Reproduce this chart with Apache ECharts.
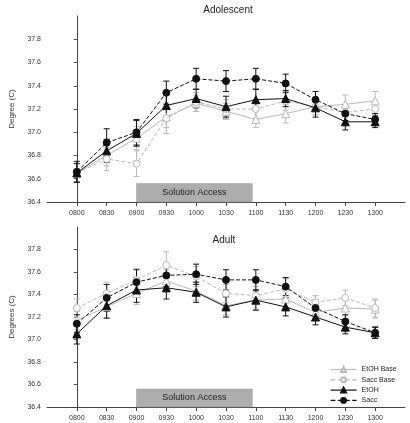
<!DOCTYPE html>
<html><head><meta charset="utf-8">
<script src="https://cdn.jsdelivr.net/npm/echarts@6/dist/echarts.min.js"></script>
<style>html,body{margin:0;padding:0;background:#fff}#c{width:410px;height:423px}</style>
</head><body><div id="c"></div>
<script>
const times = ['0800','0830','0900','0930','1000','1030','1100','1130','1200','1230','1300'];
const seriesNames = ['EtOH Base','Sacc Base','EtOH','Sacc'];
const yTicks = [36.4,36.6,36.8,37.0,37.2,37.4,37.6,37.8];
// Adolescent
const adoEtohBase = [36.65,36.80,36.95,37.13,37.25,37.18,37.11,37.16,37.22,37.24,37.27];
const adoEtohBaseErr = [0.08,0.09,0.10,0.09,0.07,0.07,0.07,0.08,0.07,0.08,0.08];
const adoSaccBase = [36.65,36.77,36.73,37.12,37.26,37.20,37.20,37.27,37.22,37.17,37.20];
const adoSaccBaseErr = [0.08,0.10,0.11,0.13,0.08,0.08,0.08,0.08,0.07,0.07,0.07];
const adoEtoh = [36.65,36.84,36.99,37.23,37.29,37.22,37.28,37.29,37.21,37.09,37.09];
const adoEtohErr = [0.08,0.10,0.11,0.11,0.08,0.09,0.09,0.07,0.08,0.07,0.05];
const adoSacc = [36.66,36.91,37.00,37.34,37.46,37.44,37.46,37.42,37.28,37.16,37.11];
const adoSaccErr = [0.09,0.12,0.11,0.10,0.09,0.09,0.09,0.08,0.07,0.06,0.05];
// Adult
const adEtohBase = [37.17,37.29,37.41,37.52,37.43,37.30,37.35,37.36,37.24,37.28,37.27];
const adEtohBaseErr = [0.08,0.10,0.10,0.10,0.08,0.08,0.08,0.08,0.07,0.07,0.08];
const adSaccBase = [37.28,37.41,37.53,37.66,37.56,37.41,37.39,37.45,37.33,37.37,37.28];
const adSaccBaseErr = [0.08,0.10,0.10,0.12,0.09,0.08,0.08,0.09,0.06,0.07,0.08];
const adEtoh = [37.05,37.30,37.44,37.46,37.42,37.29,37.35,37.29,37.20,37.11,37.06];
const adEtohErr = [0.09,0.11,0.11,0.10,0.09,0.09,0.09,0.08,0.07,0.06,0.05];
const adSacc = [37.14,37.37,37.51,37.57,37.58,37.53,37.53,37.47,37.28,37.16,37.06];
const adSaccErr = [0.08,0.12,0.11,0.10,0.09,0.09,0.09,0.08,0.07,0.06,0.05];
// Solution access period (x in time index units, y in degrees)
const accessStart = 2, accessEnd = 5.88, accessLow = 36.4, accessHigh = 36.56;

const GRAY = '#b9b9b9', BLACK = '#111';
const styles = {
  'EtOH Base': {color: GRAY, type: 'solid', symbol: 'triangle', size: 8, fill: '#fff'},
  'Sacc Base': {color: GRAY, type: 'dashed', symbol: 'circle', size: 7, fill: '#fff'},
  'EtOH': {color: BLACK, type: 'solid', symbol: 'triangle', size: 8, fill: BLACK},
  'Sacc': {color: BLACK, type: 'dashed', symbol: 'circle', size: 7, fill: BLACK}
};
const font = 'Liberation Sans, Arial, sans-serif';
const idx = times.map((t, i) => i);

function xAxis(gi) {
  return {
    type: 'value', gridIndex: gi, min: -1, max: 11, interval: 1,
    axisLine: {lineStyle: {color: '#444', width: 1}},
    axisTick: {length: 4, lineStyle: {color: '#444'}, customValues: idx},
    axisLabel: {fontSize: 7, color: '#333', fontFamily: font, margin: 8, customValues: idx,
      formatter: v => (v >= 0 && v <= 10 ? times[Math.round(v)] : '')},
    splitLine: {show: false}
  };
}
function yAxis(gi, name) {
  return {
    type: 'value', gridIndex: gi, min: 36.4, max: 38.0, interval: 0.2,
    name: name, nameLocation: 'middle', nameRotate: 90, nameGap: 31,
    nameTextStyle: {fontSize: 8, color: '#333', fontFamily: font},
    axisLine: {show: true, lineStyle: {color: '#444', width: 1}},
    axisTick: {show: true, length: 3, lineStyle: {color: '#444'}, customValues: yTicks},
    axisLabel: {fontSize: 7, color: '#333', fontFamily: font, margin: 6, customValues: yTicks,
      formatter: v => (v > 37.9 ? '' : v.toFixed(1))},
    splitLine: {show: false}
  };
}
function lineSeries(gi, name, vals, withArea) {
  const s = styles[name];
  const out = {
    type: 'line', name: name, xAxisIndex: gi, yAxisIndex: gi,
    data: vals.map((v, i) => [i, v]),
    symbol: s.symbol, symbolSize: s.size, showAllSymbol: true,
    lineStyle: {color: s.color, width: 1, type: s.type},
    itemStyle: {color: s.fill, borderColor: s.color, borderWidth: 1},
    z: 5 + seriesNames.indexOf(name), animation: false
  };
  if (withArea) {
    out.markArea = {
      silent: true,
      itemStyle: {color: '#adadad', borderColor: '#9a9a9a', borderWidth: 0.5},
      label: {show: true, position: 'inside', color: '#222', fontSize: 9, fontFamily: font},
      data: [[{name: 'Solution Access', xAxis: accessStart, yAxis: accessLow}, {xAxis: accessEnd, yAxis: accessHigh}]]
    };
  }
  return out;
}
function errSeries(gi, name, vals, errs) {
  const s = styles[name];
  return {
    type: 'custom', name: name + ' err', xAxisIndex: gi, yAxisIndex: gi,
    data: vals.map((v, i) => [i, v, errs[i]]),
    encode: {x: 0, y: 1},
    z: 3 + seriesNames.indexOf(name) * 0.1, animation: false, silent: true,
    renderItem: (params, api) => {
      const x = api.value(0), y = api.value(1), e = api.value(2);
      const t = api.coord([x, y + e]), b = api.coord([x, y - e]);
      const st = {stroke: s.color, lineWidth: 1};
      return {type: 'group', children: [
        {type: 'line', shape: {x1: t[0], y1: t[1], x2: b[0], y2: b[1]}, style: st},
        {type: 'line', shape: {x1: t[0] - 3, y1: t[1], x2: t[0] + 3, y2: t[1]}, style: st},
        {type: 'line', shape: {x1: b[0] - 3, y1: b[1], x2: b[0] + 3, y2: b[1]}, style: st}
      ]};
    }
  };
}
const panels = [
  [adoEtohBase, adoEtohBaseErr, adoSaccBase, adoSaccBaseErr, adoEtoh, adoEtohErr, adoSacc, adoSaccErr],
  [adEtohBase, adEtohBaseErr, adSaccBase, adSaccBaseErr, adEtoh, adEtohErr, adSacc, adSaccErr]
];
const series = [];
panels.forEach((p, gi) => {
  seriesNames.forEach((n, k) => series.push(errSeries(gi, n, p[2 * k], p[2 * k + 1])));
  seriesNames.forEach((n, k) => series.push(lineSeries(gi, n, p[2 * k], k === 0)));
});

const chart = echarts.init(document.getElementById('c'), null, {renderer: 'canvas'});
chart.setOption({
  animation: false,
  backgroundColor: '#fff',
  title: [
    {text: 'Adolescent', left: 223, top: 0, textAlign: 'center', textStyle: {fontSize: 10, fontWeight: 'normal', color: '#222', fontFamily: font}},
    {text: 'Adult', left: 219, top: 230, textAlign: 'center', textStyle: {fontSize: 10, fontWeight: 'normal', color: '#222', fontFamily: font}}
  ],
  grid: [
    {left: 41, right: 5, top: 16, bottom: 221},
    {left: 41, right: 5, top: 227, bottom: 16}
  ],
  xAxis: [xAxis(0), xAxis(1)],
  yAxis: [yAxis(0, 'Degree (C)'), yAxis(1, 'Degrees (C)')],
  legend: {
    data: seriesNames, orient: 'vertical', left: 325, top: 361,
    itemWidth: 26, itemHeight: 6, itemGap: 3.3,
    lineStyle: {type: 'inherit', width: 1.2},
    textStyle: {fontSize: 7, color: '#222', fontFamily: font},
    selectedMode: false
  },
  series: series
});
</script></body></html>
